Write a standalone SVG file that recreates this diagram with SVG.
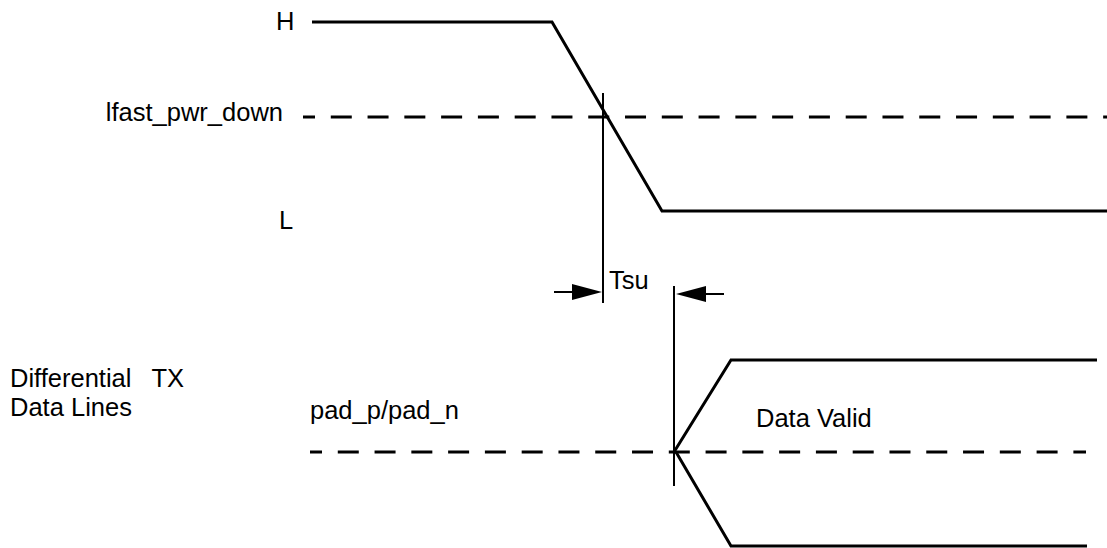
<svg xmlns="http://www.w3.org/2000/svg" width="1107" height="548" viewBox="0 0 1107 548">
<style>
text{font-family:"Liberation Sans",Arial,sans-serif;font-size:25.5px;fill:#000;white-space:pre}
.s{fill:none;stroke:#000;stroke-width:3}
.t{fill:none;stroke:#000;stroke-width:2}
.d{fill:none;stroke:#000;stroke-width:3;stroke-dasharray:21 15.78;stroke-dashoffset:9}
.a{fill:#000;stroke:none}
</style>
<rect width="1107" height="548" fill="#fff"/>
<g id="labels">
<text x="276" y="30">H</text>
<text x="283" y="121" text-anchor="end">lfast_pwr_down</text>
<text x="279" y="229">L</text>
<text x="10" y="387">Differential<tspan x="151.5">TX</tspan></text>
<text x="10" y="416">Data Lines</text>
<text x="310" y="419">pad_p/pad_n</text>
<text x="756" y="427">Data Valid</text>
<text x="609" y="289">Tsu</text>
</g>
<g id="signals">
<polyline id="pwr_down" class="s" points="312,22 552,22 662,211 1107,211"/>
<line id="ref_top" class="d" x1="303" y1="117" x2="1107" y2="117"/>
<line id="ref_bottom" class="d" x1="310" y1="452" x2="1086" y2="452"/>
<polyline id="data_p" class="s" points="674,452 731,360 1097,360"/>
<polyline id="data_n" class="s" points="676,452 731,546 1087,546"/>
</g>
<g id="connectors">
<line class="t" x1="603" y1="93" x2="603" y2="303"/>
<line class="t" x1="674" y1="286" x2="674" y2="486"/>
<line class="t" x1="554" y1="292" x2="574" y2="292"/>
<polygon class="a" points="602,292 572,284 572,300"/>
<line class="t" x1="704" y1="294" x2="724" y2="294"/>
<polygon class="a" points="676,294 706,286 706,302"/>
</g>
</svg>
